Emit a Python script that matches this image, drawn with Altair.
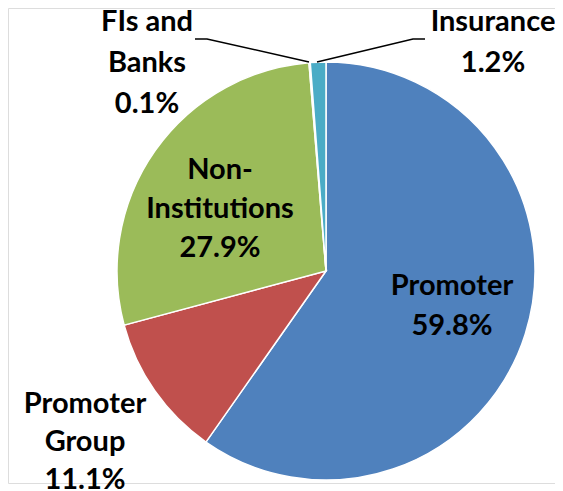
import altair as alt
import pandas as pd

# ---- data ----
categories = ["Promoter", "Promoter Group", "Non-Institutions", "FIs and Banks", "Insurance"]
shares = [59.8, 11.1, 27.9, 0.1, 1.2]
colors = ["#4F81BD", "#C0504D", "#9BBB59", "#8064A2", "#4BACC6"]
label_lines = [
    ["Promoter"],
    ["Promoter", "Group"],
    ["Non-", "Institutions"],
    ["FIs and", "Banks"],
    ["Insurance"],
]

# ---- layout (view pixel coords) ----
CX, CY, R = 318, 263, 209
label_anchor = {  # center x, first line y, line step
    "Promoter": (444, 278, 40),
    "Promoter Group": (77, 396, 38),
    "Non-Institutions": (212, 162, 39),
    "FIs and Banks": (139, 14, 41),
    "Insurance": (485, 14, 41),
}
leaders = [
    [(187, 31), (199, 31), (301, 54)],
    [(309, 54), (405, 31), (417, 31)],
]

pie_df = pd.DataFrame({
    "category": categories,
    "share": shares,
    "order": list(range(len(categories))),
})

rows = []
for cat, val, lines in zip(categories, shares, label_lines):
    x0, y0, step = label_anchor[cat]
    for i, t in enumerate(lines + [f"{val}%"]):
        rows.append({"text": t, "x": x0, "y": y0 + i * step})
label_df = pd.DataFrame(rows)

lrows = []
for k, seg in enumerate(leaders):
    for j, (x, y) in enumerate(seg):
        lrows.append({"seg": k, "i": j, "x": x, "y": y})
leader_df = pd.DataFrame(lrows)

pie = alt.Chart(pie_df).mark_arc(
    radius=R, stroke="white", strokeWidth=1.5
).encode(
    theta=alt.Theta("share:Q", stack=True),
    order=alt.Order("order:Q"),
    color=alt.Color("category:N", scale=alt.Scale(domain=categories, range=colors), legend=None),
    x=alt.value(CX),
    y=alt.value(CY),
)

text = alt.Chart(label_df).mark_text(
    font="Lato", fontWeight="bold", fontSize=29, baseline="middle", align="center", color="black"
).encode(
    x=alt.X("x:Q", scale=None, axis=None),
    y=alt.Y("y:Q", scale=None, axis=None),
    text="text:N",
)

lines = alt.Chart(leader_df).mark_line(color="black", strokeWidth=1.5).encode(
    x=alt.X("x:Q", scale=None, axis=None),
    y=alt.Y("y:Q", scale=None, axis=None),
    detail="seg:N",
    order="i:Q",
)

chart = alt.layer(pie, lines, text).properties(
    width=547, height=475, autosize=alt.AutoSizeParams(type="none"),
    padding={"left": 0, "top": 0, "right": 0, "bottom": 8},
).configure_view(stroke=None, clip=False).configure(background="white")

chart.save("out.html", embed_options={"renderer": "svg", "actions": False})
